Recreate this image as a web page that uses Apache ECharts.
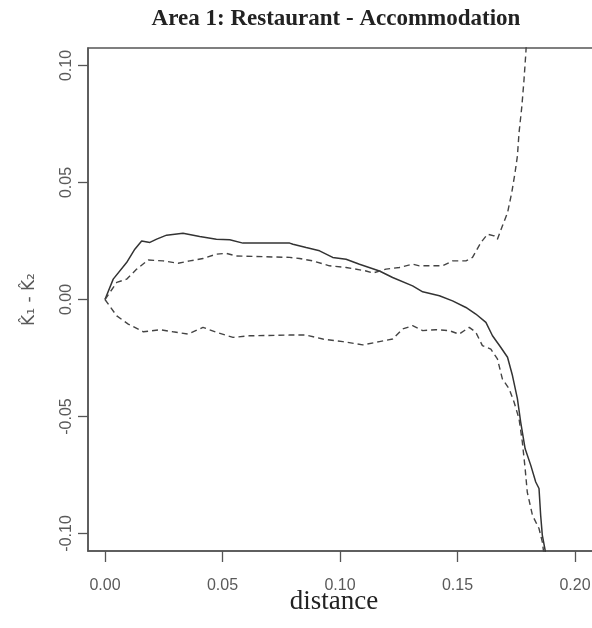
<!DOCTYPE html>
<html>
<head>
<meta charset="utf-8">
<script src="https://cdn.jsdelivr.net/npm/echarts@6/dist/echarts.min.js"></script>
<style>html,body{margin:0;padding:0;background:#fff;}#chart{width:592px;height:628px;}</style>
</head>
<body>
<div id="chart"></div>
<script>
// Observed difference K1 - K2 (solid)
var obsDist = [0, 0.0035, 0.0092, 0.0127, 0.0156, 0.0191, 0.0220, 0.0262, 0.0332, 0.0403, 0.0474, 0.0531, 0.0587, 0.0786, 0.0800, 0.0856, 0.0913, 0.0969, 0.1026, 0.1083, 0.1168, 0.1224, 0.1309, 0.1352, 0.1423, 0.1479, 0.1536, 0.1578, 0.1621, 0.1649, 0.1684, 0.1713, 0.1734, 0.1755, 0.1769, 0.1788, 0.1812, 0.1833, 0.1847, 0.1854, 0.1861, 0.1873, 0.1878];
var obsVals = [0, 0.0087, 0.0158, 0.0215, 0.0250, 0.0244, 0.0258, 0.0275, 0.0283, 0.0269, 0.0258, 0.0255, 0.0241, 0.0241, 0.0236, 0.0222, 0.0208, 0.0180, 0.0172, 0.0151, 0.0122, 0.0094, 0.0058, 0.0033, 0.0016, -0.0006, -0.0034, -0.0062, -0.0098, -0.0155, -0.0204, -0.0247, -0.0325, -0.0424, -0.0524, -0.0638, -0.0709, -0.0780, -0.0808, -0.0922, -0.1007, -0.1071, -0.1150];
// Upper envelope (dashed)
var hiDist = [0, 0.0050, 0.0092, 0.0135, 0.0184, 0.0248, 0.0311, 0.0361, 0.0417, 0.0474, 0.0517, 0.0559, 0.0786, 0.0828, 0.0885, 0.0955, 0.1026, 0.1111, 0.1140, 0.1196, 0.1253, 0.1309, 0.1338, 0.1437, 0.1479, 0.1536, 0.1564, 0.1600, 0.1628, 0.1656, 0.1670, 0.1691, 0.1713, 0.1731, 0.1745, 0.1755, 0.1762, 0.1774, 0.1783, 0.1791, 0.1796];
var hiVals = [0, 0.0073, 0.0087, 0.0130, 0.0169, 0.0165, 0.0155, 0.0165, 0.0175, 0.0194, 0.0197, 0.0186, 0.0180, 0.0175, 0.0165, 0.0144, 0.0137, 0.0122, 0.0113, 0.0130, 0.0137, 0.0151, 0.0144, 0.0144, 0.0165, 0.0165, 0.0180, 0.0244, 0.0279, 0.0272, 0.0258, 0.0314, 0.0371, 0.0457, 0.0542, 0.0613, 0.0713, 0.0826, 0.0937, 0.1054, 0.1150];
// Lower envelope (dashed)
var loDist = [0, 0.0050, 0.0099, 0.0163, 0.0234, 0.0290, 0.0354, 0.0417, 0.0474, 0.0545, 0.0616, 0.0786, 0.0856, 0.0927, 0.1012, 0.1097, 0.1168, 0.1224, 0.1267, 0.1309, 0.1352, 0.1408, 0.1465, 0.1507, 0.1550, 0.1578, 0.1606, 0.1642, 0.1670, 0.1691, 0.1720, 0.1741, 0.1762, 0.1776, 0.1788, 0.1797, 0.1819, 0.1847, 0.1861, 0.1872];
var loVals = [0, -0.0070, -0.0105, -0.0138, -0.0129, -0.0138, -0.0148, -0.0119, -0.0140, -0.0162, -0.0155, -0.0152, -0.0152, -0.0169, -0.0180, -0.0194, -0.0180, -0.0169, -0.0126, -0.0112, -0.0133, -0.0129, -0.0133, -0.0148, -0.0119, -0.0140, -0.0197, -0.0212, -0.0254, -0.0339, -0.0382, -0.0439, -0.0510, -0.0609, -0.0723, -0.0823, -0.0922, -0.0979, -0.1036, -0.1120];

var xTicks = [0, 0.05, 0.10, 0.15, 0.20];
var yTicks = [-0.10, -0.05, 0, 0.05, 0.10];

var titleText = 'Area 1: Restaurant - Accommodation';
var xName = 'distance';
var yName = 'K\u0302\u2081 - K\u0302\u2082';

function pairs(xs, ys) { return xs.map(function (x, i) { return [x, ys[i]]; }); }

var chart = echarts.init(document.getElementById('chart'), null, { renderer: 'canvas' });
var labelFont = { fontFamily: 'Liberation Sans, Arial, sans-serif', fontSize: 16, color: '#5a5a5a' };

chart.setOption({
  animation: false,
  backgroundColor: '#ffffff',
  grid: { left: 88, top: 48, width: 506, height: 503, outerBoundsMode: 'none', containLabel: false, show: true, borderColor: '#555', borderWidth: 1.5, backgroundColor: 'transparent' },
  graphic: [
    { type: 'text', x: 336, y: 19, style: { text: titleText, fontFamily: 'Liberation Serif, Times New Roman, serif', fontWeight: 'bold', fontSize: 23, fill: '#222', textAlign: 'center', textVerticalAlign: 'middle' } },
    { type: 'text', x: 334, y: 602, style: { text: xName, fontFamily: 'Liberation Serif, Times New Roman, serif', fontSize: 27, fill: '#222', textAlign: 'center', textVerticalAlign: 'middle' } }
  ],
  xAxis: {
    type: 'value', min: -0.00723, max: 0.2081,
    axisLine: { show: true, onZero: false, lineStyle: { color: '#555', width: 1.5 } },
    splitLine: { show: false },
    axisTick: { show: true, inside: false, length: 11, lineStyle: { color: '#555', width: 1.3 }, customValues: xTicks },
    axisLabel: Object.assign({ margin: 27, customValues: xTicks, formatter: function (v) { return v.toFixed(2); } }, labelFont)
  },
  yAxis: {
    type: 'value', min: -0.1075, max: 0.1075,
    name: yName, nameLocation: 'middle', nameGap: 50, nameRotate: 90,
    nameTextStyle: { fontFamily: 'DejaVu Sans, Liberation Sans, sans-serif', fontSize: 17, color: '#5a5a5a' },
    axisLine: { show: true, onZero: false, lineStyle: { color: '#555', width: 1.5 } },
    splitLine: { show: false },
    axisTick: { show: true, inside: false, length: 10, lineStyle: { color: '#555', width: 1.3 }, customValues: yTicks },
    axisLabel: Object.assign({ margin: 13, rotate: 90, customValues: yTicks, formatter: function (v) { return v.toFixed(2); } }, labelFont)
  },
  series: [
    { name: 'observed', type: 'line', data: pairs(obsDist, obsVals), showSymbol: false, symbol: 'none', clip: true,
      lineStyle: { color: '#333', width: 1.5, type: 'solid' } },
    { name: 'upper', type: 'line', data: pairs(hiDist, hiVals), showSymbol: false, symbol: 'none', clip: true,
      lineStyle: { color: '#444', width: 1.4, type: [6, 4] } },
    { name: 'lower', type: 'line', data: pairs(loDist, loVals), showSymbol: false, symbol: 'none', clip: true,
      lineStyle: { color: '#444', width: 1.4, type: [6, 4] } }
  ]
});
</script>
</body>
</html>
